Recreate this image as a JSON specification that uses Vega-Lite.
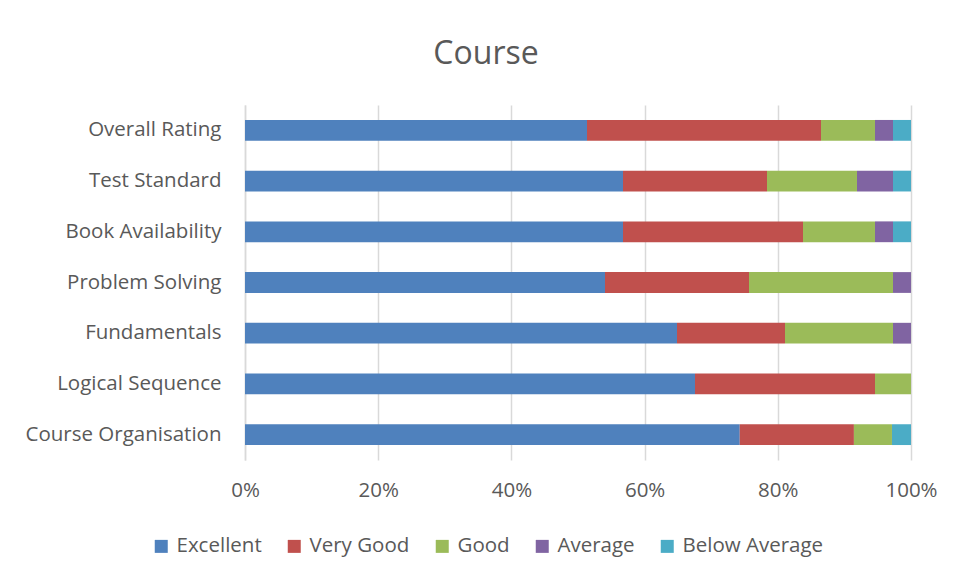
{
  "$schema": "https://vega.github.io/schema/vega-lite/v6.json",
  "autosize": "none",
  "width": 666,
  "height": 355,
  "padding": {"left": 245, "top": 105, "right": 47, "bottom": 120},
  "background": "white",
  "title": {
    "text": "Course",
    "anchor": "middle",
    "frame": "group",
    "dx": -92,
    "offset": 34,
    "fontSize": 32,
    "font": "Open Sans",
    "fontWeight": "normal",
    "color": "#595959"
  },
  "data": {
    "values": [
      {"category": "Overall Rating", "rating": "Excellent", "ord": 1, "count": 19},
      {"category": "Overall Rating", "rating": "Very Good", "ord": 2, "count": 13},
      {"category": "Overall Rating", "rating": "Good", "ord": 3, "count": 3},
      {"category": "Overall Rating", "rating": "Average", "ord": 4, "count": 1},
      {"category": "Overall Rating", "rating": "Below Average", "ord": 5, "count": 1},
      {"category": "Test Standard", "rating": "Excellent", "ord": 1, "count": 21},
      {"category": "Test Standard", "rating": "Very Good", "ord": 2, "count": 8},
      {"category": "Test Standard", "rating": "Good", "ord": 3, "count": 5},
      {"category": "Test Standard", "rating": "Average", "ord": 4, "count": 2},
      {"category": "Test Standard", "rating": "Below Average", "ord": 5, "count": 1},
      {"category": "Book Availability", "rating": "Excellent", "ord": 1, "count": 21},
      {"category": "Book Availability", "rating": "Very Good", "ord": 2, "count": 10},
      {"category": "Book Availability", "rating": "Good", "ord": 3, "count": 4},
      {"category": "Book Availability", "rating": "Average", "ord": 4, "count": 1},
      {"category": "Book Availability", "rating": "Below Average", "ord": 5, "count": 1},
      {"category": "Problem Solving", "rating": "Excellent", "ord": 1, "count": 20},
      {"category": "Problem Solving", "rating": "Very Good", "ord": 2, "count": 8},
      {"category": "Problem Solving", "rating": "Good", "ord": 3, "count": 8},
      {"category": "Problem Solving", "rating": "Average", "ord": 4, "count": 1},
      {"category": "Fundamentals", "rating": "Excellent", "ord": 1, "count": 24},
      {"category": "Fundamentals", "rating": "Very Good", "ord": 2, "count": 6},
      {"category": "Fundamentals", "rating": "Good", "ord": 3, "count": 6},
      {"category": "Fundamentals", "rating": "Average", "ord": 4, "count": 1},
      {"category": "Logical Sequence", "rating": "Excellent", "ord": 1, "count": 25},
      {"category": "Logical Sequence", "rating": "Very Good", "ord": 2, "count": 10},
      {"category": "Logical Sequence", "rating": "Good", "ord": 3, "count": 2},
      {"category": "Course Organisation", "rating": "Excellent", "ord": 1, "count": 26},
      {"category": "Course Organisation", "rating": "Very Good", "ord": 2, "count": 6},
      {"category": "Course Organisation", "rating": "Good", "ord": 3, "count": 2},
      {"category": "Course Organisation", "rating": "Below Average", "ord": 5, "count": 1}
    ]
  },
  "mark": {"type": "bar"},
  "encoding": {
    "y": {
      "field": "category",
      "type": "nominal",
      "sort": ["Overall Rating", "Test Standard", "Book Availability", "Problem Solving", "Fundamentals", "Logical Sequence", "Course Organisation"],
      "scale": {"paddingInner": 0.59, "paddingOuter": 0.295},
      "axis": {
        "title": null,
        "ticks": false,
        "domain": true,
        "domainColor": "#d9d9d9",
        "domainWidth": 1.5,
        "labelPadding": 24,
        "labelLimit": 400,
        "labelFontSize": 20.5,
        "labelFont": "Open Sans",
        "labelColor": "#595959"
      }
    },
    "x": {
      "field": "count",
      "type": "quantitative",
      "stack": "normalize",
      "scale": {"domain": [0, 1], "nice": false},
      "axis": {
        "title": null,
        "format": ".0%",
        "values": [0, 0.2, 0.4, 0.6, 0.8, 1],
        "ticks": false,
        "domain": false,
        "grid": true,
        "gridColor": "#d9d9d9",
        "gridWidth": 1.5,
        "labelPadding": 20,
        "labelFontSize": 20.5,
        "labelFont": "Open Sans",
        "labelColor": "#595959",
        "labelFlush": false
      }
    },
    "color": {
      "field": "rating",
      "type": "nominal",
      "scale": {
        "domain": ["Excellent", "Very Good", "Good", "Average", "Below Average"],
        "range": ["#4F81BD", "#C0504D", "#9BBB59", "#8064A2", "#4BACC6"]
      },
      "legend": {
        "title": null,
        "orient": "none",
        "direction": "horizontal",
        "columns": 5,
        "legendX": -94,
        "legendY": 431,
        "symbolType": "square",
        "symbolSize": 169,
        "symbolStrokeWidth": 0,
        "labelFontSize": 20.5,
        "labelFont": "Open Sans",
        "labelColor": "#595959",
        "labelOffset": 5,
        "labelLimit": 400,
        "columnPadding": 22
      }
    },
    "order": {"field": "ord", "type": "quantitative"}
  },
  "config": {
    "view": {"stroke": null}
  }
}
